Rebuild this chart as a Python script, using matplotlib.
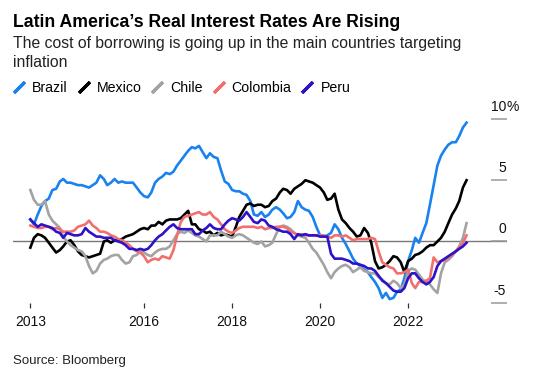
import matplotlib
matplotlib.use("Agg")
import matplotlib.pyplot as plt
import matplotlib.transforms as mtransforms
from matplotlib.lines import Line2D
import pandas as pd

plt.rcParams['font.family'] = ['Liberation Sans', 'DejaVu Sans']

# -----------------------------
# Data (monthly real rates, %)
# -----------------------------
dates = pd.date_range("2013-06-01", periods=120, freq="MS")

brazil = [1.8, 1.4, 2.2, 2.9, 3.3, 3.5, 4.2, 4.3, 4.9, 5.1,
          4.8, 4.8, 4.7, 4.6, 4.6, 4.5, 4.4, 4.6, 4.8, 5.4,
          5.1, 4.6, 4.8, 5.1, 4.8, 4.9, 4.8, 4.8, 4.8, 4.4,
          4.0, 3.7, 3.6, 4.0, 4.8, 5.1, 5.3, 5.6, 5.5, 5.7,
          6.2, 6.6, 7.0, 7.4, 7.7, 7.6, 7.8, 7.3, 6.8, 7.2,
          6.9, 6.8, 5.8, 4.9, 4.7, 4.2, 4.1, 4.1, 3.9, 3.8,
          3.3, 2.2, 2.1, 2.4, 2.0, 2.2, 2.6, 2.8, 2.6, 2.3,
          1.9, 2.0, 2.4, 3.3, 2.8, 2.6, 2.5, 2.0, 1.2, 0.5,
          0.4, 0.5, 0.7, 1.4, 1.0, 0.3, -0.2, -0.8, -1.4, -1.8,
          -2.0, -2.3, -2.5, -2.9, -3.3, -3.8, -4.6, -4.2, -4.7, -4.6,
          -4.1, -3.9, -3.0, -1.6, -0.7, 0.3, -0.1, 0.7, 1.5, 3.0,
          4.6, 6.2, 7.0, 7.5, 7.9, 8.1, 8.1, 8.6, 9.3, 9.7]

mexico = [-0.5, 0.3, 0.6, 0.5, 0.3, -0.1, -0.5, -0.9, -0.7, -0.4,
          0.0, 0.1, -0.3, -0.8, -1.1, -1.2, -1.3, -1.2, -1.1, -1.0,
          0.0, 0.1, -0.1, 0.1, 0.1, 0.2, 0.4, 0.5, 0.6, 0.8,
          1.0, 1.1, 1.0, 1.3, 1.3, 1.6, 1.4, 1.7, 1.8, 1.8,
          1.8, 1.9, 2.2, 2.5, 1.4, 1.4, 1.0, 0.9, 0.7, 0.8,
          0.5, 0.7, 0.5, 0.6, 0.5, 0.4, 1.2, 2.0, 2.5, 3.0,
          3.1, 2.9, 3.0, 3.0, 2.8, 2.9, 3.3, 3.5, 4.0, 4.3,
          4.2, 3.9, 4.3, 4.5, 4.7, 5.0, 4.9, 4.8, 4.6, 4.4,
          4.0, 3.4, 3.5, 3.9, 2.6, 1.8, 1.5, 1.1, 0.8, 0.4,
          0.5, 1.1, 0.7, -0.1, -1.6, -2.2, -2.1, -1.9, -1.6, -1.2,
          -1.3, -1.7, -2.5, -1.6, -1.4, -1.1, -1.0, -0.8, -0.5, -0.3,
          -0.3, 0.0, 0.3, 0.8, 1.5, 2.2, 2.7, 3.3, 4.4, 5.0]

chile = [4.2, 3.4, 3.0, 3.0, 3.3, 2.2, 1.7, 1.4, 1.1, 0.4,
         0.0, -0.3, -0.5, -0.7, -0.8, -1.2, -2.0, -2.6, -2.4, -1.8,
         -1.5, -1.4, -1.2, -1.1, -1.1, -1.5, -1.8, -1.7, -1.2, -1.1,
         -0.8, -0.9, -1.1, -1.2, -0.9, -0.7, -0.6, -0.6, -0.4, 0.1,
         0.6, 0.8, 0.7, 0.9, 0.7, 0.5, 0.4, 0.2, 0.0, 0.5,
         0.5, 0.5, 0.8, 0.6, 0.4, 0.3, 0.5, 0.6, 0.5, 0.3,
         0.1, -0.1, -0.2, 0.0, -0.4, -0.3, -0.1, 0.6, 1.2, 1.3,
         1.2, 1.0, 0.7, 0.5, 0.4, 0.3, -0.1, -0.6, -0.9, -1.4,
         -1.9, -2.5, -3.0, -2.5, -2.2, -2.0, -1.9, -2.1, -2.5, -2.3,
         -2.1, -2.4, -2.5, -2.6, -2.6, -2.9, -3.1, -3.4, -3.5, -3.2,
         -3.4, -3.8, -3.5, -2.4, -2.2, -2.3, -2.7, -3.1, -3.3, -3.5,
         -3.9, -4.2, -2.6, -1.7, -1.5, -1.2, -0.8, -0.4, 0.3, 1.5]

colombia = [1.3, 1.2, 1.1, 1.1, 1.2, 1.2, 1.0, 1.1, 1.0, 0.8,
            0.8, 0.8, 0.9, 1.2, 1.3, 1.4, 1.7, 1.3, 1.1, 0.8,
            0.8, 0.7, 0.5, 0.4, 0.2, 0.1, -0.1, -0.3, -0.6, -0.8,
            -0.9, -1.2, -1.7, -1.5, -1.4, -1.5, -1.2, -1.3, -1.4, -0.7,
            0.5, 1.6, 2.0, 2.1, 2.2, 2.3, 2.4, 2.2, 2.2, 2.4,
            2.0, 1.8, 1.4, 1.0, 0.8, 0.7, 0.9, 1.1, 1.2, 1.2,
            1.2, 1.2, 1.1, 1.2, 1.0, 1.1, 1.1, 1.2, 1.2, 1.2,
            1.1, 0.8, 0.7, 0.5, 0.6, 0.5, 0.5, 0.5, 0.5, 0.5,
            0.5, 0.4, 0.3, 0.5, 0.5, 0.4, 0.5, 0.3, 0.1, 0.2,
            0.2, 0.2, 0.2, 0.3, 0.2, -0.8, -1.7, -1.9, -2.1, -2.2,
            -2.6, -2.6, -2.5, -2.3, -3.4, -3.8, -3.3, -3.3, -3.2, -3.0,
            -1.3, -1.7, -1.6, -1.5, -1.3, -1.1, -0.8, -0.5, -0.1, 0.5]

peru = [1.8, 1.5, 1.2, 1.4, 1.3, 1.2, 1.1, 0.8, 0.7, 0.3,
        0.7, 0.6, 0.5, 0.5, 0.6, 1.1, 0.8, 0.6, 0.4, 0.4,
        0.3, 0.3, 0.3, 0.1, 0.0, -0.1, -0.3, -0.6, -0.6, -0.7,
        -0.6, -0.7, -0.6, -0.3, 0.1, 0.4, 0.6, 0.9, 1.2, 1.4,
        1.1, 1.0, 1.0, 1.0, 1.0, 0.6, 0.6, 0.9, 1.1, 1.4,
        1.1, 1.0, 1.0, 1.4, 1.7, 1.9, 1.8, 1.7, 2.0, 2.4,
        2.0, 1.6, 1.5, 1.8, 1.7, 1.3, 1.2, 1.0, 0.9, 0.8,
        0.8, 0.6, 0.2, 0.6, 0.5, 0.6, 0.5, 0.5, 0.5, 0.4,
        0.4, 0.4, -1.0, -1.4, -1.4, -1.4, -1.5, -1.6, -1.8, -1.8,
        -1.9, -2.0, -2.2, -2.2, -2.4, -2.8, -3.2, -3.4, -3.7, -4.0,
        -4.1, -4.1, -3.8, -3.0, -2.6, -2.6, -3.0, -3.3, -3.5, -3.3,
        -2.9, -2.0, -1.6, -1.4, -1.2, -1.0, -0.8, -0.6, -0.4, -0.1]

names = ["Brazil", "Mexico", "Chile", "Colombia", "Peru"]
colors = ["#1a82f0", "#000000", "#a3a3a3", "#f26f6d", "#2c12c9"]

xtick_dates = pd.to_datetime(["2013-06-01", "2016-01-01", "2018-01-01",
                              "2020-01-01", "2022-01-01"])
xtick_labels = ["2013", "2016", "2018", "2020", "2022"]
ytick_vals = [-5, 0, 5, 10]
ytick_labels = ["-5", "0", "5", "10"]

# -----------------------------
# Figure
# -----------------------------
fig = plt.figure(figsize=(5.35, 3.74), dpi=100)
ax = fig.add_axes([0.0243, 0.1898, 0.9234, 0.5295])

ax.axhline(0, color="#777777", lw=1.0, zorder=1)
for vals, name, c in zip([brazil, mexico, chile, colombia, peru], names, colors):
    ax.plot(dates, vals, color=c, lw=1.9, label=name, zorder=2,
            solid_joinstyle="round")

ax.set_xlim(pd.Timestamp("2013-01-08"), pd.Timestamp("2024-04-01"))
ax.set_ylim(-5.02, 11.14)

for s in ax.spines.values():
    s.set_visible(False)

ax.set_xticks(xtick_dates)
ax.set_xticklabels(xtick_labels)
ax.tick_params(axis="x", direction="out", length=3.6, width=0.9,
               color="#333333", labelsize=10, labelcolor="#111111", pad=5)

ax.yaxis.tick_right()
ax.set_yticks(ytick_vals)
ax.tick_params(axis="y", direction="in", length=11.5, width=1.1,
               color="#999999", labelright=False)

# y labels sit above the tick lines
ytrans = mtransforms.blended_transform_factory(ax.transAxes, ax.transData)
ytrans = mtransforms.offset_copy(ytrans, fig=fig, y=5.8, units="points")
for v, lab in zip(ytick_vals, ytick_labels):
    ax.text(0.998, v, lab, transform=ytrans, ha="right", va="baseline",
            fontsize=10, color="#111111")
ax.text(0.998, 10, "%", transform=ytrans, ha="left", va="baseline",
        fontsize=10, color="#111111")

# -----------------------------
# Titles / legend / source
# -----------------------------
fig.text(0.0243, 0.9278, "Latin America\u2019s Real Interest Rates Are Rising",
         fontsize=12.7, fontweight="bold", va="baseline", ha="left")
fig.text(0.0243, 0.8717, "The cost of borrowing is going up in the main countries targeting",
         fontsize=11.3, color="#222222", va="baseline", ha="left")
fig.text(0.0243, 0.8217, "inflation",
         fontsize=11.3, color="#222222", va="baseline", ha="left")

handles = [Line2D([], [], color=c, marker=(2, 2, -45), linestyle="None",
                  markersize=11, markeredgewidth=2.3) for c in colors]
fig.legend(handles, names, loc="center left", bbox_to_anchor=(0.0243, 0.766),
           ncol=5, frameon=False, fontsize=10.2, handlelength=0.85,
           handletextpad=0.49, columnspacing=0.7, borderpad=0, borderaxespad=0)

fig.text(0.0243, 0.0267, "Source: Bloomberg", fontsize=9.5, color="#222222",
         va="baseline", ha="left")

fig.savefig("out.png", dpi=100)
